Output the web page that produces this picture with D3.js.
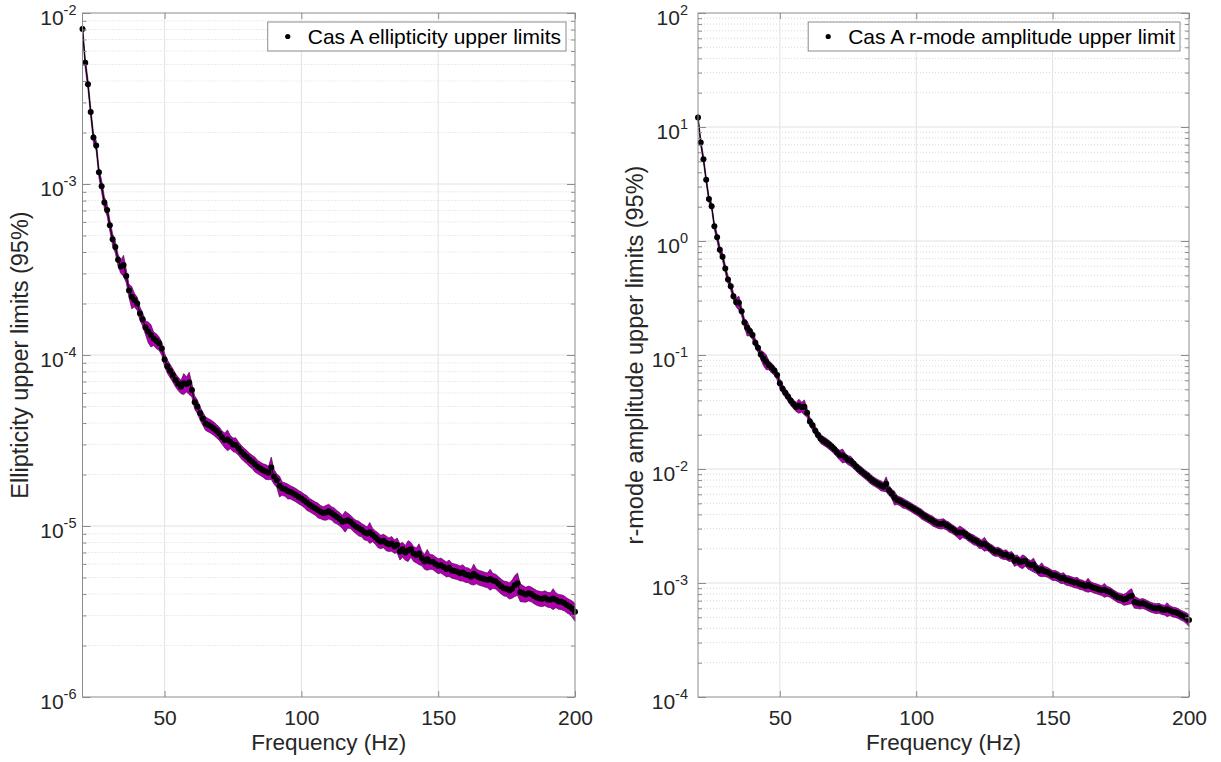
<!DOCTYPE html>
<html>
<head>
<meta charset="utf-8">
<script src="https://cdn.jsdelivr.net/npm/d3@7"></script>
<style>
    body { margin: 0; background: #fff; }
    svg { font-family: "Liberation Sans", Arial, Helvetica, sans-serif; }
</style>
</head>
<body>
<svg id="chart" width="1221" height="762"></svg>
<script>
// Frequency bins (Hz)
const freqs = [
    20, 21, 22, 23, 24, 25, 26, 27, 28, 29, 30, 31, 32, 33, 34, 35, 36, 37, 38, 39,
    40, 41, 42, 43, 44, 45, 46, 47, 48, 49, 50, 51, 52, 53, 54, 55, 56, 57, 58, 59,
    60, 61, 62, 63, 64, 65, 66, 67, 68, 69, 70, 71, 72, 73, 74, 75, 76, 77, 78, 79,
    80, 81, 82, 83, 84, 85, 86, 87, 88, 89, 90, 91, 92, 93, 94, 95, 96, 97, 98, 99,
    100, 101, 102, 103, 104, 105, 106, 107, 108, 109, 110, 111, 112, 113, 114, 115, 116, 117, 118, 119,
    120, 121, 122, 123, 124, 125, 126, 127, 128, 129, 130, 131, 132, 133, 134, 135, 136, 137, 138, 139,
    140, 141, 142, 143, 144, 145, 146, 147, 148, 149, 150, 151, 152, 153, 154, 155, 156, 157, 158, 159,
    160, 161, 162, 163, 164, 165, 166, 167, 168, 169, 170, 171, 172, 173, 174, 175, 176, 177, 178, 179,
    180, 181, 182, 183, 184, 185, 186, 187, 188, 189, 190, 191, 192, 193, 194, 195, 196, 197, 198, 199,
    200
];

// Cas A ellipticity upper limits (95%)
const ellipticity = [
    8.06e-3, 5.11e-3, 3.83e-3, 2.64e-3, 1.87e-3, 1.68e-3, 1.17e-3, 9.7e-4, 7.8e-4, 7.05e-4,
    5.73e-4, 4.75e-4, 4.28e-4, 3.6e-4, 3.29e-4, 3.36e-4, 2.9e-4, 2.38e-4, 2.19e-4, 2.1e-4,
    2.0e-4, 1.75e-4, 1.62e-4, 1.45e-4, 1.37e-4, 1.31e-4, 1.25e-4, 1.21e-4, 1.17e-4, 1.09e-4,
    9.4e-5, 8.6e-5, 8.1e-5, 7.64e-5, 7.14e-5, 6.8e-5, 6.53e-5, 6.83e-5, 6.76e-5, 6.9e-5,
    6.24e-5, 5.3e-5, 5.0e-5, 4.56e-5, 4.25e-5, 3.98e-5, 3.9e-5, 3.82e-5, 3.72e-5, 3.6e-5,
    3.48e-5, 3.3e-5, 3.18e-5, 3.2e-5, 3.11e-5, 3.0e-5, 2.98e-5, 2.85e-5, 2.72e-5, 2.62e-5,
    2.54e-5, 2.45e-5, 2.38e-5, 2.3e-5, 2.22e-5, 2.17e-5, 2.12e-5, 2.08e-5, 2.05e-5, 2.2e-5,
    1.95e-5, 1.85e-5, 1.72e-5, 1.66e-5, 1.64e-5, 1.6e-5, 1.58e-5, 1.55e-5, 1.52e-5, 1.48e-5,
    1.45e-5, 1.41e-5, 1.37e-5, 1.33e-5, 1.30e-5, 1.27e-5, 1.24e-5, 1.21e-5, 1.19e-5, 1.2e-5,
    1.22e-5, 1.19e-5, 1.16e-5, 1.13e-5, 1.1e-5, 1.06e-5, 1.07e-5, 1.08e-5, 1.06e-5, 1.02e-5,
    9.9e-6, 9.7e-6, 9.5e-6, 9.2e-6, 9.05e-6, 9.2e-6, 8.9e-6, 8.6e-6, 8.3e-6, 8.1e-6,
    8.2e-6, 7.95e-6, 7.8e-6, 7.9e-6, 7.6e-6, 7.74e-6, 7.1e-6, 7.3e-6, 7.0e-6, 7.2e-6,
    7.3e-6, 6.9e-6, 6.76e-6, 6.9e-6, 6.5e-6, 6.2e-6, 6.4e-6, 6.2e-6, 6.18e-6, 6.0e-6,
    5.85e-6, 5.9e-6, 5.75e-6, 5.6e-6, 5.7e-6, 5.5e-6, 5.45e-6, 5.4e-6, 5.3e-6, 5.35e-6,
    5.2e-6, 5.17e-6, 5.05e-6, 5.25e-6, 5.1e-6, 5.0e-6, 4.95e-6, 4.88e-6, 4.83e-6, 4.9e-6,
    4.8e-6, 4.75e-6, 4.6e-6, 4.45e-6, 4.33e-6, 4.3e-6, 4.2e-6, 4.3e-6, 4.5e-6, 4.62e-6,
    4.1e-6, 4.04e-6, 3.98e-6, 4.05e-6, 4.0e-6, 3.9e-6, 3.82e-6, 3.77e-6, 3.75e-6, 3.8e-6,
    3.72e-6, 3.7e-6, 3.77e-6, 3.7e-6, 3.62e-6, 3.6e-6, 3.55e-6, 3.45e-6, 3.38e-6, 3.28e-6,
    3.15e-6
];

// Cas A r-mode amplitude upper limit
const rmodeAmp = [
    12.1, 7.30, 5.22, 3.44, 2.34, 2.02, 1.35, 1.078, 0.836, 0.729,
    0.573, 0.460, 0.401, 0.327, 0.290, 0.288, 0.242, 0.193, 0.173, 0.162,
    0.150, 0.128, 0.116, 0.101, 0.0934, 0.0873, 0.0815, 0.0772, 0.0731, 0.0667,
    0.0564, 0.0506, 0.0467, 0.0432, 0.0397, 0.0371, 0.0350, 0.0359, 0.0350, 0.0351,
    0.0312, 0.0261, 0.0242, 0.0217, 0.0199, 0.0184, 0.0177, 0.0171, 0.0164, 0.01565,
    0.01491, 0.01394, 0.01325, 0.01315, 0.01261, 0.0120, 0.01176, 0.01110, 0.01046, 0.00995,
    0.00953, 0.00907, 0.00871, 0.00831, 0.00793, 0.00766, 0.00740, 0.00717, 0.00699, 0.00742,
    0.00650, 0.00610, 0.00561, 0.00536, 0.00523, 0.00505, 0.00494, 0.00479, 0.00465, 0.00448,
    0.00435, 0.00419, 0.00403, 0.00387, 0.00375, 0.00363, 0.00351, 0.00339, 0.00331, 0.00330,
    0.00333, 0.00322, 0.00311, 0.00300, 0.00290, 0.00277, 0.00277, 0.00277, 0.00269, 0.00257,
    0.00248, 0.00240, 0.00234, 0.00224, 0.00219, 0.00221, 0.00212, 0.00203, 0.00195, 0.00188,
    0.00189, 0.00182, 0.00177, 0.00178, 0.00170, 0.00172, 0.00157, 0.00160, 0.00152, 0.00155,
    0.00156, 0.00147, 0.00143, 0.00145, 0.00135, 0.00128, 0.00132, 0.00127, 0.00125, 0.00121,
    0.00117, 0.00117, 0.00114, 0.00110, 0.00111, 0.00106, 0.00105, 0.00103, 0.00101, 0.00101,
    0.000975, 0.000963, 0.000935, 0.000966, 0.000933, 0.000909, 0.000895, 0.000877, 0.000862, 0.000870,
    0.000847, 0.000833, 0.000802, 0.000772, 0.000747, 0.000737, 0.000716, 0.000729, 0.000758, 0.000774,
    0.000683, 0.000670, 0.000656, 0.000664, 0.000652, 0.000632, 0.000616, 0.000605, 0.000598, 0.000603,
    0.000587, 0.000581, 0.000589, 0.000575, 0.000560, 0.000554, 0.000543, 0.000525, 0.000512, 0.000495,
    0.000473
];

// Half-width of the shaded uncertainty band, in percent of the value
const bandPct = [
    7, 7, 7, 7, 7, 7, 7, 8, 8, 8,
    8, 8, 8, 8, 9, 14, 9, 9, 15, 9,
    9, 9, 9, 9, 14, 15, 9, 10, 9, 9,
    9, 9, 9, 9, 9, 9, 9, 14, 10, 15,
    9, 9, 9, 9, 9, 9, 9, 9, 9, 9,
    9, 9, 10, 14, 9, 9, 10, 9, 9, 9,
    9, 9, 9, 10, 9, 9, 9, 10, 9, 15,
    10, 9, 14, 9, 9, 10, 9, 9, 9, 9,
    9, 9, 10, 9, 9, 9, 10, 9, 9, 10,
    10, 9, 10, 9, 9, 9, 14, 10, 9, 9,
    9, 10, 9, 10, 9, 14, 9, 9, 10, 9,
    9, 10, 9, 10, 9, 10, 11, 10, 10, 14,
    10, 10, 10, 14, 10, 10, 14, 10, 10, 10,
    10, 10, 10, 10, 11, 10, 10, 10, 10, 11,
    10, 10, 10, 14, 10, 10, 10, 10, 10, 14,
    10, 10, 10, 10, 10, 10, 11, 12, 14, 15,
    12, 11, 10, 10, 10, 10, 10, 10, 10, 10,
    10, 10, 14, 10, 10, 10, 10, 10, 10, 11,
    12
];

const freqTicks = [50, 100, 150, 200];
const ellipDecades = [-6, -5, -4, -3, -2];
const rmodeDecades = [-4, -3, -2, -1, 0, 1, 2];

const svg = d3.select('#chart');
const plotTop = 13, plotBottom = 697;

const panels = [
    {
        left: 82.5, right: 575, values: ellipticity, decades: ellipDecades, labelGap: 6,
        yTitle: 'Ellipticity upper limits (95%)', yTitleX: 28,
        legend: 'Cas A ellipticity upper limits'
    },
    {
        left: 698, right: 1189, values: rmodeAmp, decades: rmodeDecades, labelGap: 10,
        yTitle: 'r-mode amplitude upper limits (95%)', yTitleX: 643,
        legend: 'Cas A r-mode amplitude upper limit'
    }
];

panels.forEach(drawPanel);

function drawPanel(p) {
    const lo = p.decades[0], hi = p.decades[p.decades.length - 1];
    const x = d3.scaleLinear().domain([20, 200]).range([p.left, p.right]);
    const y = d3.scaleLog().domain([Math.pow(10, lo), Math.pow(10, hi)]).range([plotBottom, plotTop]);

    const majors = p.decades.map(d => Math.pow(10, d));
    const minors = [];
    for (let d = lo; d < hi; d++) {
        for (let k = 2; k <= 9; k++) minors.push(k * Math.pow(10, d));
    }

    const g = svg.append('g');

    // Grid lines
    g.selectAll('.minor-grid').data(minors).join('line')
        .attr('x1', p.left).attr('x2', p.right)
        .attr('y1', d => y(d)).attr('y2', d => y(d))
        .attr('stroke', '#d9d9d9').attr('stroke-width', 1)
        .attr('stroke-dasharray', '1,2');

    g.selectAll('.major-grid').data(majors.slice(1, -1)).join('line')
        .attr('x1', p.left).attr('x2', p.right)
        .attr('y1', d => y(d)).attr('y2', d => y(d))
        .attr('stroke', '#e2e2e2').attr('stroke-width', 1);

    g.selectAll('.x-grid').data(freqTicks.slice(0, -1)).join('line')
        .attr('x1', d => x(d)).attr('x2', d => x(d))
        .attr('y1', plotTop).attr('y2', plotBottom)
        .attr('stroke', '#e2e2e2').attr('stroke-width', 1);

    // Data: band, line, dots
    const rows = freqs.map((f, i) => ({ f, v: p.values[i], e: bandPct[i] / 100 }));

    const band = d3.area()
        .x(d => x(d.f))
        .y0(d => y(d.v * (1 - d.e)))
        .y1(d => y(d.v * (1 + d.e)));

    g.append('path')
        .attr('d', band(rows))
        .attr('fill', '#b000b0')
        .attr('stroke', '#3a003a')
        .attr('stroke-width', 0.6);

    const lineGen = d3.line().x(d => x(d.f)).y(d => y(d.v));
    g.append('path')
        .attr('d', lineGen(rows))
        .attr('fill', 'none')
        .attr('stroke', '#000')
        .attr('stroke-width', 1);

    g.selectAll('.dot').data(rows).join('circle')
        .attr('cx', d => x(d.f))
        .attr('cy', d => y(d.v))
        .attr('r', 3)
        .attr('fill', '#000');

    // Axes box
    const axisColor = '#8c8c8c';
    g.append('rect')
        .attr('x', p.left).attr('y', plotTop)
        .attr('width', p.right - p.left).attr('height', plotBottom - plotTop)
        .attr('fill', 'none').attr('stroke', axisColor).attr('stroke-width', 1);

    // X ticks (bottom with labels, top without)
    const xb = g.append('g')
        .attr('transform', `translate(0,${plotBottom})`)
        .call(d3.axisBottom(x).tickValues(freqTicks).tickSizeInner(-6).tickSizeOuter(0).tickPadding(13));
    xb.select('.domain').remove();
    xb.selectAll('line').attr('stroke', axisColor);
    xb.selectAll('text').attr('font-size', 21).attr('fill', '#262626')
        .attr('font-family', '"Liberation Sans", Arial, sans-serif');

    const xt = g.append('g')
        .attr('transform', `translate(0,${plotTop})`)
        .call(d3.axisTop(x).tickValues(freqTicks).tickSizeInner(-6).tickSizeOuter(0).tickFormat(''));
    xt.select('.domain').remove();
    xt.selectAll('line').attr('stroke', axisColor);

    // Y ticks on both sides (major and minor)
    [[d3.axisLeft, p.left], [d3.axisRight, p.right]].forEach(([axisFn, pos]) => {
        [[majors, 8], [minors, 4]].forEach(([vals, len]) => {
            const a = g.append('g')
                .attr('transform', `translate(${pos},0)`)
                .call(axisFn(y).tickValues(vals).tickSizeInner(-len).tickSizeOuter(0).tickFormat(''));
            a.select('.domain').remove();
            a.selectAll('line').attr('stroke', axisColor);
        });
    });

    // Y tick labels as 10^n
    const yl = g.selectAll('.ylab').data(p.decades).join('text')
        .attr('x', p.left - p.labelGap)
        .attr('y', d => y(Math.pow(10, d)) + 12)
        .attr('text-anchor', 'end')
        .attr('font-size', 21)
        .attr('fill', '#262626');
    yl.append('tspan').text('10');
    yl.append('tspan').attr('dy', -10).attr('font-size', 14.5).text(d => String(d));

    // Axis titles
    g.append('text')
        .attr('x', (p.left + p.right) / 2)
        .attr('y', 750)
        .attr('text-anchor', 'middle')
        .attr('font-size', 22.5)
        .attr('fill', '#262626')
        .text('Frequency (Hz)');

    g.append('text')
        .attr('transform', `translate(${p.yTitleX},${(plotTop + plotBottom) / 2}) rotate(-90)`)
        .attr('text-anchor', 'middle')
        .attr('font-size', 23.5)
        .attr('fill', '#262626')
        .text(p.yTitle);

    // Legend
    const boxRight = p.right - 9;
    const lg = g.append('g');
    const lt = lg.append('text')
        .attr('y', 44)
        .attr('font-size', 21)
        .attr('fill', '#000')
        .text(p.legend);
    const tw = lt.node().getComputedTextLength();
    const textX = boxRight - 5 - tw;
    lt.attr('x', textX);
    const boxLeft = textX - 40;
    lg.insert('rect', 'text')
        .attr('x', boxLeft).attr('y', 22)
        .attr('width', boxRight - boxLeft).attr('height', 29)
        .attr('fill', '#fff').attr('stroke', '#8c8c8c').attr('stroke-width', 1);
    lg.append('circle')
        .attr('cx', boxLeft + 20).attr('cy', 36.5)
        .attr('r', 2.6).attr('fill', '#000');
}
</script>
</body>
</html>
